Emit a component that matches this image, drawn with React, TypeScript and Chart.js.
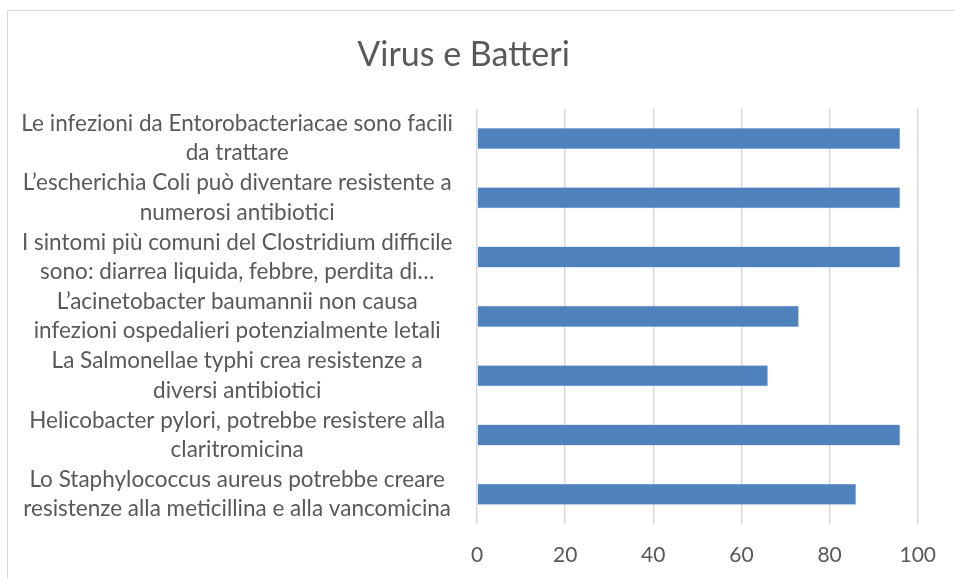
import React, { useEffect, useRef } from "react";
import { Chart, registerables } from "chart.js";

Chart.register(...registerables);

const titleText = "Virus e Batteri";
const categories: string[][] = [
  ["Le infezioni da Entorobacteriacae sono facili", "da trattare"],
  ["L’escherichia Coli può diventare resistente a", "numerosi antibiotici"],
  ["I sintomi più comuni del Clostridium difficile", "sono: diarrea liquida, febbre, perdita di…"],
  ["L’acinetobacter baumannii non causa", "infezioni ospedalieri potenzialmente letali"],
  ["La Salmonellae typhi crea resistenze a", "diversi antibiotici"],
  ["Helicobacter pylori, potrebbe resistere alla", "claritromicina"],
  ["Lo Staphylococcus aureus potrebbe creare", "resistenze alla meticillina e alla vancomicina"],
];
const values: number[] = [96, 96, 96, 73, 66, 96, 86];
const xMin = 0;
const xMax = 100;
const xStep = 20;

const FONT = "Lato, 'Open Sans', sans-serif";
const TEXT = "#595959";

const framePlugin = {
  id: "frame",
  beforeDraw(chart: any) {
    const ctx = chart.ctx;
    ctx.save();
    ctx.fillStyle = "#ffffff";
    ctx.fillRect(0, 0, chart.width, chart.height);
    ctx.strokeStyle = "#d9d9d9";
    ctx.lineWidth = 1;
    ctx.strokeRect(7.5, 10.5, 1200, 1200);
    ctx.restore();
  },
};

export default function App() {
  const ref = useRef<HTMLCanvasElement>(null);
  useEffect(() => {
    if (!ref.current) return;
    const chart = new Chart(ref.current, {
      type: "bar",
      data: {
        labels: categories,
        datasets: [
          {
            data: values,
            backgroundColor: "#4f81bd",
            borderColor: "#8eaedb",
            borderWidth: 0.5,
            categoryPercentage: 1,
            barPercentage: 0.355,
          },
        ],
      },
      options: {
        indexAxis: "y",
        animation: false,
        responsive: false,
        layout: { padding: { left: 7, top: 10, right: 35, bottom: 11 } },
        plugins: {
          legend: { display: false },
          tooltip: { enabled: false },
          title: {
            display: true,
            text: titleText,
            color: TEXT,
            font: { family: FONT, size: 34, weight: "normal", lineHeight: 1.2 },
            padding: { top: 25, bottom: 33 },
          },
        },
        scales: {
          x: {
            min: xMin,
            max: xMax,
            afterFit: (scale: any) => {
              scale.height = 44;
            },
            ticks: {
              stepSize: xStep,
              color: TEXT,
              padding: 19,
              font: { family: FONT, size: 21, lineHeight: 1.2 },
            },
            grid: { color: "#d9d9d9", lineWidth: 1.5, drawTicks: false },
            border: { display: false },
          },
          y: {
            afterFit: (scale: any) => {
              scale.width = 470;
              scale.paddingTop = 0;
              scale.paddingBottom = 0;
            },
            ticks: {
              color: TEXT,
              autoSkip: false,
              crossAlign: "center",
              padding: 24,
              font: { family: FONT, size: 22.5, lineHeight: 1.3 },
            },
            grid: { display: false, drawTicks: false },
            border: { display: false },
          },
        },
      },
      plugins: [framePlugin],
    });
    return () => chart.destroy();
  }, []);
  return (
    <div style={{ position: "fixed", left: 0, top: 0, width: 955, height: 579, overflow: "hidden", background: "#fff" }}>
      <canvas ref={ref} width={955} height={579} style={{ width: 955, height: 579, display: "block" }} />
    </div>
  );
}
